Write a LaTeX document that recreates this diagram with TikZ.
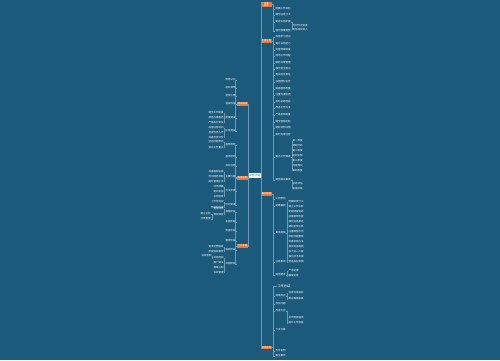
\documentclass[tikz,border=0pt]{standalone}
\usepackage{fontspec}
\newfontfamily\cjk{Noto Sans CJK SC}
\usetikzlibrary{positioning}
\definecolor{mapbg}{HTML}{1C5A7C}
\definecolor{maporange}{HTML}{E57A3C}
\definecolor{mapline}{HTML}{6F9AB5}

\begin{document}
\begin{tikzpicture}[x=1pt, y=-1pt,
  root/.style={rectangle, fill=white, text=mapbg, font=\cjk\fontsize{2.8}{3.2}\selectfont, minimum width=11pt, minimum height=5pt, inner sep=0.4pt},
  topic/.style={rectangle, fill=maporange, text=white, font=\cjk\fontsize{2.3}{2.7}\selectfont, minimum width=10.5pt, minimum height=3.4pt, inner sep=0.3pt, align=center},
  leaf/.style={font=\cjk\fontsize{2.5}{2.9}\selectfont, text=white, inner sep=0.3pt, align=left},
  link/.style={draw=mapline, line width=0.25pt}]
  \fill[mapbg] (0,0) rectangle (500,360);
  \useasboundingbox (0,0) rectangle (500,360);

  % centre and main branches
  \node[root] (root) at (254.5,175) {工作计划};
  \node[topic, anchor=west] (r1) at (261,4.5) {年度\\目标};
  \node[topic, anchor=west] (r2) at (261,41) {主要任务};
  \node[topic, anchor=west] (r3) at (261,194) {推进措施};
  \node[topic, anchor=west] (r4) at (261,347.5) {总结提升};
  \node[topic, anchor=east] (l1) at (248,104) {组织保障};
  \node[topic, anchor=east] (l2) at (248,178) {实施方案};
  \node[topic, anchor=east] (l3) at (248,246) {工作步骤};

  \foreach \t in {r1,r2,r3,r4}
    \draw[link] (root.east) -- ++(0.5,0) |- (\t.west);
  \foreach \t in {l1,l2,l3}
    \draw[link] (root.west) -- ++(-0.5,0) |- (\t.east);

  % right: r1
  \foreach \y/\txt [count=\i] in {9/明确工作目标, 15/细化任务分工, 22/制定实施步骤, 31/强化保障措施} {
    \node[leaf, anchor=west] (a\i) at (275,\y) {\txt};
    \draw[link] (r1.east) -- ++(1.5,0) |- (a\i.west);
  }
  \foreach \y/\txt [count=\i] in {26/时间节点安排, 30/责任落实到人} {
    \node[leaf, anchor=west] (aa\i) at (292,\y) {\txt};
    \draw[link] (a3.east) -- ++(1,0) |- (aa\i.west);
  }

  % right: r2
  \foreach \y/\txt [count=\i] in {37/加强学习培训, 44/提升业务能力, 50/完善规章制度, 56/规范工作流程,
      63/做好日常管理, 69/强化安全意识, 75/落实岗位责任, 82/加强团队协作, 89/提高服务质量,
      95/注重沟通协调, 102/及时总结经验, 108/改进工作方法, 115/严格考核制度, 122/健全激励机制,
      128/做好资料归档, 135/按时完成任务, 157/重点工作推进, 180/其他相关事项} {
    \node[leaf, anchor=west] (b\i) at (275,\y) {\txt};
    \draw[link] (r2.east) -- ++(1.5,0) |- (b\i.west);
  }
  \foreach \y/\txt [count=\i] in {141/第一季度, 146/调研分析, 151/第二季度, 156/组织实施,
      161/第三季度, 166/检查落实, 171/第四季度} {
    \node[leaf, anchor=west] (bb\i) at (292,\y) {\txt};
    \draw[link] (b17.east) -- ++(1,0) |- (bb\i.west);
  }
  \foreach \y/\txt [count=\i] in {184/总结评估, 189/查漏补缺} {
    \node[leaf, anchor=west] (bc\i) at (292,\y) {\txt};
    \draw[link] (b18.east) -- ++(1,0) |- (bc\i.west);
  }

  % right: r3
  \foreach \y/\txt [count=\i] in {199/工作原则, 206/统筹兼顾, 233/具体措施, 262/注意事项, 275/其他要求} {
    \node[leaf, anchor=west] (c\i) at (275,\y) {\txt};
    \draw[link] (r3.east) -- ++(1.5,0) |- (c\i.west);
  }
  \foreach \txt [count=\i] in {明确职责分工, 建立工作台账, 定期调度会商, 加强督导检查,
      强化信息报送, 做好宣传引导, 注重典型示范, 抓好问题整改, 完善考核办法,
      落实奖惩措施, 加大投入力度, 强化技术支撑, 营造良好氛围} {
    \node[leaf, anchor=west] (cc\i) at (288,{197+5*\i}) {\txt};
    \draw[link] (c3.east) -- ++(1,0) |- (cc\i.west);
  }
  \foreach \y/\txt [count=\i] in {271/严守纪律, 276/确保实效} {
    \node[leaf, anchor=west] (cd\i) at (288,\y) {\txt};
    \draw[link] (c5.east) -- ++(1,0) |- (cd\i.west);
  }

  % right: r4
  \node[leaf, anchor=west, font=\cjk\fontsize{3.2}{3.6}\selectfont] (d1) at (277,286) {工作总结};
  \foreach \y/\txt [count=\i from 2] in {296/成绩亮点, 304/存在问题, 311/改进方向, 330/下步打算, 351/附件说明, 356/备注事项} {
    \node[leaf, anchor=west] (d\i) at (275,\y) {\txt};
  }
  \foreach \t in {d1,d2,d3,d4,d5,d6,d7}
    \draw[link] (r4.east) -- ++(1.5,0) |- (\t.west);
  \foreach \y/\txt [count=\i] in {293/任务完成良好, 299/群众满意度高} {
    \node[leaf, anchor=west] (dd\i) at (288,\y) {\txt};
    \draw[link] (d2.east) -- ++(1,0) |- (dd\i.west);
  }
  \foreach \y/\txt [count=\i] in {318/补齐短板弱项, 323/提升工作效能} {
    \node[leaf, anchor=west] (de\i) at (288,\y) {\txt};
    \draw[link] (d4.east) -- ++(1,0) |- (de\i.west);
  }

  % left: l1
  \foreach \y/\txt [count=\i] in {80/思想认识, 88/组织领导, 96/宣传引导, 104/督促检查, 118/制度建设, 131/队伍建设} {
    \node[leaf, anchor=east] (e\i) at (236,\y) {\txt};
    \draw[link] (l1.west) -- ++(-1.5,0) |- (e\i.east);
  }
  \foreach \y/\txt [count=\i] in {113/健全工作制度, 118/规范办事程序, 123/严格执行到位} {
    \node[leaf, anchor=east] (ee\i) at (224,\y) {\txt};
    \draw[link] (e5.west) -- ++(-1,0) |- (ee\i.east);
  }
  \foreach \y/\txt [count=\i] in {128/加强业务培训, 133/选拔优秀人才, 138/完善考核评价} {
    \node[leaf, anchor=east] (ef\i) at (224,\y) {\txt};
    \draw[link] (e6.west) -- ++(-1,0) |- (ef\i.east);
  }

  % left: l2
  \foreach \y/\txt [count=\i] in {145/指导思想, 157/基本原则, 166/目标任务, 177/主要内容, 191/方法步骤, 205/时间安排} {
    \node[leaf, anchor=east] (f\i) at (236,\y) {\txt};
    \draw[link] (l2.west) -- ++(-1.5,0) |- (f\i.east);
  }
  \foreach \y/\txt [count=\i] in {142/坚持问题导向, 148/突出工作重点} {
    \node[leaf, anchor=east] (fa\i) at (224,\y) {\txt};
    \draw[link] (f1.west) -- ++(-1,0) |- (fa\i.east);
  }
  \foreach \y/\txt [count=\i] in {172/完善基础设施, 177/优化服务流程, 182/提升管理水平} {
    \node[leaf, anchor=east] (fb\i) at (224,\y) {\txt};
    \draw[link] (f4.west) -- ++(-1,0) |- (fb\i.east);
  }
  \foreach \y/\txt [count=\i] in {187/动员部署, 192/组织实施, 197/总结验收} {
    \node[leaf, anchor=east] (fc\i) at (224,\y) {\txt};
    \draw[link] (f5.west) -- ++(-1,0) |- (fc\i.east);
  }
  \foreach \y/\txt [count=\i] in {202/上半年完成, 208/年底前完成} {
    \node[leaf, anchor=east] (fd\i) at (224,\y) {\txt};
    \draw[link] (f6.west) -- ++(-1,0) |- (fd\i.east);
  }

  % left: l3
  \foreach \y/\txt [count=\i] in {212/准备阶段, 222/实施阶段, 231/检查阶段, 241/整改阶段, 250/验收阶段, 264/巩固阶段} {
    \node[leaf, anchor=east] (g\i) at (236,\y) {\txt};
    \draw[link] (l3.west) -- ++(-1.5,0) |- (g\i.east);
  }
  \foreach \y/\txt [count=\i] in {209/宣传动员, 215/摸底调查} {
    \node[leaf, anchor=east] (ga\i) at (224,\y) {\txt};
    \draw[link] (g1.west) -- ++(-1,0) |- (ga\i.east);
  }
  \foreach \y/\txt [count=\i] in {214/建立台账, 219/分类整理} {
    \node[leaf, anchor=east] (gb\i) at (211,\y) {\txt};
    \draw[link] (ga2.west) -- ++(-1,0) |- (gb\i.east);
  }
  \foreach \y/\txt [count=\i] in {247/逐项对照验收, 252/形成验收报告} {
    \node[leaf, anchor=east] (gc\i) at (224,\y) {\txt};
    \draw[link] (g5.west) -- ++(-1,0) |- (gc\i.east);
  }
  \foreach \y/\txt [count=\i] in {258/总结经验, 263/推广做法, 268/建章立制, 273/长效管理} {
    \node[leaf, anchor=east] (gd\i) at (224,\y) {\txt};
    \draw[link] (g6.west) -- ++(-1,0) |- (gd\i.east);
  }
  \node[leaf, anchor=east] (ge1) at (212,256) {长效机制};
  \draw[link] (gd1.west) -- ++(-1,0) |- (ge1.east);
\end{tikzpicture}
\end{document}
